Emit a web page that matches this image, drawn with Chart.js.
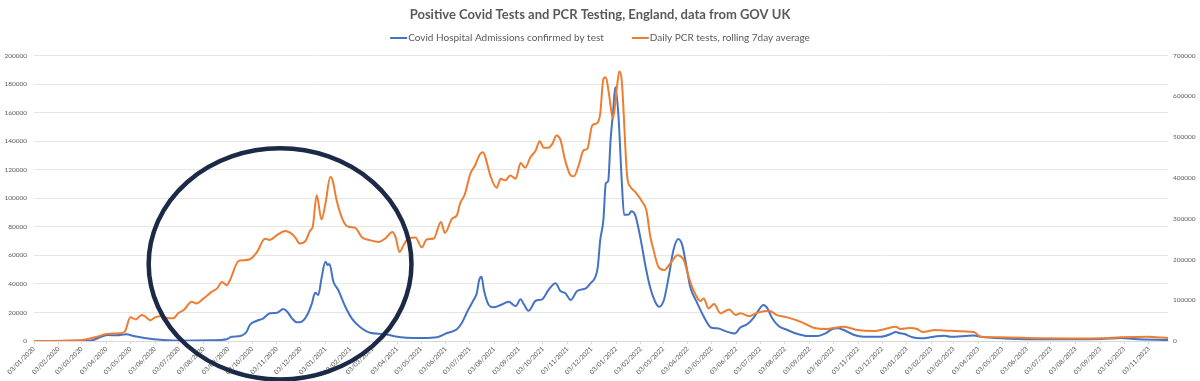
<!DOCTYPE html>
<html>
<head>
<meta charset="utf-8">
<script src="https://cdn.jsdelivr.net/npm/chart.js@4/dist/chart.umd.min.js"></script>
<style>
html,body{margin:0;padding:0;background:#fff;}
#wrap{width:1200px;height:381px;position:relative;}
</style>
</head>
<body>
<div id="wrap"><canvas id="c"></canvas></div>
<script>
const titleText = "Positive Covid Tests and PCR Testing, England, data from GOV UK";
const admissionsLabel = "Covid Hospital Admissions confirmed by test";
const pcrLabel = "Daily PCR tests, rolling 7day average";

const tickLabels = ["03/01/2020","03/02/2020","03/03/2020","03/04/2020","03/05/2020","03/06/2020","03/07/2020","03/08/2020","03/09/2020","03/10/2020","03/11/2020","03/12/2020",
"03/01/2021","03/02/2021","03/03/2021","03/04/2021","03/05/2021","03/06/2021","03/07/2021","03/08/2021","03/09/2021","03/10/2021","03/11/2021","03/12/2021",
"03/01/2022","03/02/2022","03/03/2022","03/04/2022","03/05/2022","03/06/2022","03/07/2022","03/08/2022","03/09/2022","03/10/2022","03/11/2022","03/12/2022",
"03/01/2023","03/02/2023","03/03/2023","03/04/2023","03/05/2023","03/06/2023","03/07/2023","03/08/2023","03/09/2023","03/10/2023","03/11/2023"];

const admissionsDates = ["2020-01-03","2020-03-01","2020-03-13","2020-03-26","2020-04-05","2020-04-16","2020-04-28","2020-05-07","2020-05-23","2020-06-13","2020-07-05","2020-08-14","2020-09-01","2020-09-07","2020-09-18","2020-09-26","2020-09-30","2020-10-09","2020-10-17","2020-10-25","2020-11-03","2020-11-11","2020-11-16","2020-11-22","2020-11-28","2020-12-04","2020-12-11","2020-12-17","2020-12-21","2020-12-25","2020-12-29",
"2021-01-03","2021-01-06","2021-01-08","2021-01-13","2021-01-19","2021-01-28","2021-02-05","2021-02-15","2021-02-28","2021-03-17","2021-03-29","2021-04-15","2021-05-06","2021-05-23","2021-06-04","2021-06-17","2021-06-23","2021-06-30","2021-07-08","2021-07-12","2021-07-15","2021-07-18","2021-07-21","2021-07-27","2021-08-02","2021-08-11","2021-08-21","2021-08-30","2021-09-05","2021-09-09","2021-09-15","2021-09-24","2021-10-02","2021-10-10","2021-10-19","2021-10-25","2021-10-31","2021-11-07","2021-11-15","2021-11-26","2021-12-02","2021-12-08","2021-12-11","2021-12-14","2021-12-18","2021-12-21","2021-12-24","2021-12-27","2021-12-30",
"2022-01-02","2022-01-06","2022-01-10","2022-01-13","2022-01-19","2022-01-22","2022-01-27","2022-02-03","2022-02-09","2022-02-15","2022-02-21","2022-02-26","2022-03-04","2022-03-10","2022-03-16","2022-03-22","2022-03-27","2022-04-01","2022-04-06","2022-04-15","2022-04-23","2022-05-02","2022-05-10","2022-05-23","2022-06-01","2022-06-08","2022-06-17","2022-06-25","2022-07-01","2022-07-07","2022-07-12","2022-07-18","2022-07-26","2022-08-06","2022-08-19","2022-08-31","2022-09-13","2022-09-23","2022-10-01","2022-10-08","2022-10-16","2022-10-29","2022-11-10","2022-12-01","2022-12-14","2022-12-20","2022-12-26","2022-12-31",
"2023-01-10","2023-01-21","2023-02-06","2023-02-19","2023-02-27","2023-03-28","2023-04-06","2023-05-01","2023-06-11","2023-07-23","2023-09-04","2023-09-29","2023-10-15","2023-11-27"];
const admissionsValues = [0,200,200,2600,4200,4000,4700,3500,1900,700,200,500,1200,3000,3500,6500,11200,14200,15900,19400,19800,22400,20500,15900,13100,13500,18200,26400,33800,32200,43900,
55500,53200,53900,41500,35700,24000,15900,10000,5800,4900,3500,2300,2100,2600,5400,8200,12400,20500,28700,33400,42700,45000,35700,25200,23600,25200,27500,24500,29200,25900,21200,28200,29200,35700,40400,35000,33600,28700,35000,36900,40600,45000,52000,70700,84700,110400,112000,140700,159400,
177800,157000,112700,88500,88700,91000,88200,70700,52000,36900,27500,24000,28700,45000,63700,71400,67200,53200,38000,26400,17100,9500,8900,6400,5200,9500,11900,16600,21700,25200,22900,15900,10500,7700,4900,3500,3500,5400,8200,8900,7700,4200,3000,3000,4900,6300,5400,4900,
2600,1900,3000,3700,3000,3800,3000,1900,1200,1200,1400,2100,1400,700];

const pcrDates = ["2020-01-03","2020-03-01","2020-03-22","2020-04-03","2020-04-20","2020-04-26","2020-05-03","2020-05-10","2020-05-17","2020-05-21","2020-05-28","2020-06-03","2020-06-11","2020-06-20","2020-06-26","2020-07-02","2020-07-09","2020-07-19","2020-07-25","2020-08-03","2020-08-13","2020-08-20","2020-08-26","2020-09-01","2020-09-05","2020-09-16","2020-09-22","2020-09-30","2020-10-09","2020-10-19","2020-10-25","2020-11-03","2020-11-13","2020-11-20","2020-11-26","2020-12-02","2020-12-09","2020-12-15","2020-12-18","2020-12-23","2020-12-29",
"2021-01-03","2021-01-09","2021-01-12","2021-01-17","2021-01-25","2021-02-01","2021-02-09","2021-02-18","2021-02-28","2021-03-11","2021-03-19","2021-03-28","2021-04-01","2021-04-06","2021-04-11","2021-04-17","2021-04-26","2021-05-04","2021-05-10","2021-05-19","2021-05-28","2021-06-02","2021-06-11","2021-06-17","2021-06-21","2021-06-27","2021-07-04","2021-07-10","2021-07-16","2021-07-20","2021-07-25","2021-07-29","2021-08-06","2021-08-11","2021-08-17","2021-08-23","2021-08-30","2021-09-05","2021-09-11","2021-09-17","2021-09-24","2021-09-29","2021-10-04","2021-10-10","2021-10-15","2021-10-20","2021-10-25","2021-10-31","2021-11-07","2021-11-11","2021-11-17","2021-11-23","2021-11-28","2021-12-04","2021-12-10","2021-12-14","2021-12-18","2021-12-21","2021-12-25","2021-12-30",
"2022-01-04","2022-01-07","2022-01-10","2022-01-17","2022-01-21","2022-01-27","2022-02-05","2022-02-10","2022-02-15","2022-02-19","2022-02-25","2022-03-04","2022-03-12","2022-03-21","2022-03-29","2022-04-04","2022-04-10","2022-04-19","2022-04-23","2022-04-29","2022-05-06","2022-05-14","2022-05-25","2022-06-02","2022-06-08","2022-06-19","2022-06-29","2022-07-14","2022-07-24","2022-08-06","2022-08-23","2022-09-08","2022-09-25","2022-10-16","2022-11-02","2022-11-23","2022-12-07","2022-12-20","2022-12-26",
"2023-01-06","2023-01-16","2023-01-23","2023-02-08","2023-02-27","2023-03-28","2023-04-06","2023-05-01","2023-06-20","2023-07-28","2023-09-04","2023-09-29","2023-11-02","2023-11-18","2023-11-27"];
const pcrValues = [0,2000,10500,17000,19000,23000,58000,53000,64000,61000,51000,58000,61000,55500,55500,68000,76000,96000,92000,104500,120500,129000,145000,137000,149000,196500,198000,200500,218000,251000,248000,259500,270000,265000,254000,239000,245500,271500,280000,357500,298000,
337000,402000,394000,345000,296000,280000,278000,254000,247000,243000,251500,267500,255000,218500,235000,251500,254000,229500,249000,251500,292000,265000,300000,308500,337000,360000,410500,431000,458000,463000,435000,406000,376000,398000,394000,406000,398000,436500,425000,449500,467500,490000,474000,474000,484000,504000,494000,443000,406000,404000,431000,467500,472000,529000,534000,557000,643000,647000,606000,545000,
622500,661500,639000,402000,378000,365500,341000,320500,255000,223000,182000,174000,190000,210500,198000,157500,125000,98000,104500,80000,90500,68000,77500,63500,68000,61000,69000,74000,63500,58000,47000,32500,29500,35000,27000,24500,29500,35000,29500,
32000,29500,22000,27000,25000,22000,10500,9000,6600,6000,6600,9000,10500,8500,7300];

// hand-drawn highlight ellipse, in data terms (centre date / left-axis value, half-sizes)
const circleCentreDate = "2020-11-07";
const circleCentreValue = 54000;
const circleHalfDays = 165;
const circleHalfValue = 81000;

const DAY0 = Date.UTC(2020,0,3);
function isoToDay(s){const p=s.split('-').map(Number);return (Date.UTC(p[0],p[1]-1,p[2])-DAY0)/86400000;}
function dmyToDay(s){const p=s.split('/').map(Number);return (Date.UTC(p[2],p[1]-1,p[0])-DAY0)/86400000;}
const tickDays = tickLabels.map(dmyToDay);

const admissionsPts = admissionsDates.map((d,i)=>({x:isoToDay(d),y:admissionsValues[i]}));
const pcrPts = pcrDates.map((d,i)=>({x:isoToDay(d),y:pcrValues[i]}));
const xMin = Math.min(admissionsPts[0].x, pcrPts[0].x);
const xMax = Math.max(admissionsPts[admissionsPts.length-1].x, pcrPts[pcrPts.length-1].x);

const FONT = "Lato, 'Open Sans', sans-serif";
const TXT = '#595959';

const legendPlugin = {
  id: 'customLegend',
  afterDraw(chart){
    const ctx = chart.ctx;
    const ds = chart.data.datasets;
    ctx.save();
    ctx.font = '10px ' + FONT;
    const lineW = 17, gapText = 1, gapItem = 28;
    const widths = ds.map(d => ctx.measureText(d.label).width);
    let total = 0;
    ds.forEach((d,i)=>{ total += lineW + gapText + widths[i]; if(i < ds.length-1) total += gapItem; });
    let x = chart.width/2 - total/2;
    const y = 38;
    ds.forEach((d,i)=>{
      ctx.strokeStyle = d.borderColor; ctx.lineWidth = 2;
      ctx.beginPath(); ctx.moveTo(x, y); ctx.lineTo(x+lineW, y); ctx.stroke();
      x += lineW + gapText;
      ctx.fillStyle = TXT; ctx.textBaseline = 'middle'; ctx.textAlign = 'left';
      ctx.fillText(d.label, x, y);
      x += widths[i] + gapItem;
    });
    ctx.restore();
  }
};

const circlePlugin = {
  id: 'circleNote',
  afterDraw(chart){
    const xs = chart.scales.x, ys = chart.scales.y;
    const cd = isoToDay(circleCentreDate);
    const cx = xs.getPixelForValue(cd);
    const cy = ys.getPixelForValue(circleCentreValue);
    const rx = xs.getPixelForValue(cd + circleHalfDays) - cx;
    const ry = ys.getPixelForValue(circleCentreValue - circleHalfValue) - cy;
    const ctx = chart.ctx;
    ctx.save();
    ctx.strokeStyle = '#1c2a48';
    ctx.lineWidth = 4.5;
    ctx.beginPath();
    ctx.ellipse(cx, cy, rx, ry, 0, 0, Math.PI*2);
    ctx.stroke();
    ctx.restore();
  }
};

new Chart(document.getElementById('c'), {
  type: 'line',
  data: {
    datasets: [
      {label: admissionsLabel, data: admissionsPts, borderColor: '#4472C4', backgroundColor: '#4472C4', borderWidth: 2, pointRadius: 0, cubicInterpolationMode: 'monotone', yAxisID: 'y', order: 1},
      {label: pcrLabel, data: pcrPts, borderColor: '#ED7D31', backgroundColor: '#ED7D31', borderWidth: 2, pointRadius: 0, cubicInterpolationMode: 'monotone', yAxisID: 'y1', order: 0}
    ]
  },
  options: {
    responsive: true,
    maintainAspectRatio: false,
    animation: false,
    layout: {padding: 0},
    plugins: {
      legend: {display: false},
      tooltip: {enabled: false},
      title: {display: true, text: titleText, color: TXT, font: {family: FONT, size: 13, weight: 'bold'}, padding: {top: 7, bottom: 33}}
    },
    scales: {
      x: {
        type: 'linear', min: xMin, max: xMax,
        afterBuildTicks: s => { s.ticks = tickDays.map(v => ({value: v})); },
        afterFit: s => { s.height = 40; },
        grid: {display: true, drawOnChartArea: false, drawTicks: true, tickLength: 3, color: '#d9d9d9'},
        border: {display: true, color: '#d9d9d9'},
        ticks: {autoSkip: false, minRotation: 45, maxRotation: 45, padding: 1, color: TXT, font: {family: FONT, size: 6.5},
          callback: (v, i) => tickLabels[i]}
      },
      y: {
        position: 'left', min: 0, max: 200000,
        afterFit: s => { s.width = 34; },
        grid: {color: '#e6e6e6', drawTicks: false},
        border: {display: false},
        ticks: {stepSize: 20000, padding: 7, color: TXT, font: {family: FONT, size: 6.5}, callback: v => String(v)}
      },
      y1: {
        position: 'right', min: 0, max: 700000,
        afterFit: s => { s.width = 32; },
        grid: {display: false, drawTicks: false},
        border: {display: false},
        ticks: {stepSize: 100000, padding: 5, color: TXT, font: {family: FONT, size: 6.5}, callback: v => String(v)}
      }
    }
  },
  plugins: [legendPlugin, circlePlugin]
});
</script>
</body>
</html>
